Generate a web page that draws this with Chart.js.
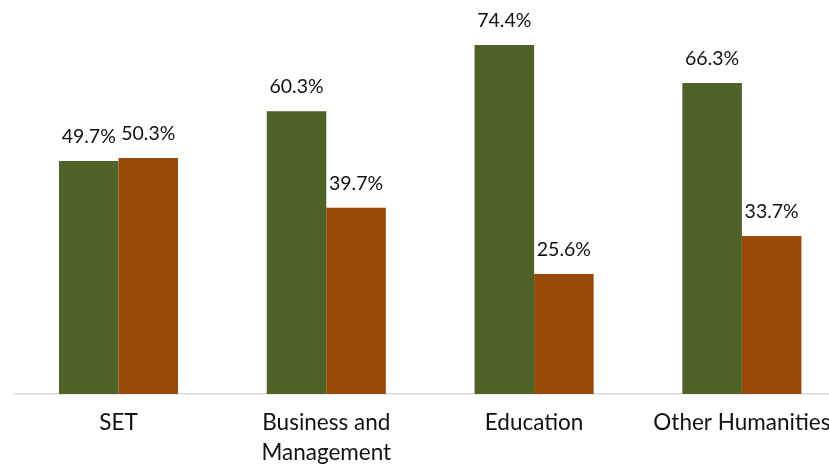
<!DOCTYPE html>
<html>
<head>
<meta charset="utf-8">
<script src="https://cdn.jsdelivr.net/npm/chart.js@4.4.1/dist/chart.umd.min.js"></script>
<style>
  html, body { margin: 0; padding: 0; background: #ffffff; overflow: hidden; }
  #wrap { position: relative; width: 860px; height: 465px; }
</style>
</head>
<body>
<div id="wrap"><canvas id="chart"></canvas></div>
<script>
// Categories along the x axis
const categories = ['SET', ['Business and', 'Management'], 'Education', 'Other Humanities'];
// Percentage shares per category for the two groups
const firstGroup = [49.7, 60.3, 74.4, 66.3];
const secondGroup = [50.3, 39.7, 25.6, 33.7];

const GREEN = '#4F6228';
const BROWN = '#984807';
const FONT = 'Lato, "Open Sans", "DejaVu Sans", sans-serif';

// Writes each bar's percentage above its top edge
const valueLabels = {
  id: 'valueLabels',
  afterDatasetsDraw(chart) {
    const ctx = chart.ctx;
    ctx.save();
    ctx.font = '19.5px ' + FONT;
    ctx.fillStyle = '#111111';
    ctx.textAlign = 'center';
    ctx.textBaseline = 'middle';
    chart.data.datasets.forEach((ds, i) => {
      chart.getDatasetMeta(i).data.forEach((bar, j) => {
        ctx.fillText(ds.data[j].toFixed(1) + '%', bar.x, bar.y - 24);
      });
    });
    ctx.restore();
  }
};

new Chart(document.getElementById('chart'), {
  type: 'bar',
  data: {
    labels: categories,
    datasets: [
      { label: 'Group 1', data: firstGroup, backgroundColor: GREEN, borderWidth: 0 },
      { label: 'Group 2', data: secondGroup, backgroundColor: BROWN, borderWidth: 0 }
    ]
  },
  options: {
    responsive: true,
    maintainAspectRatio: false,
    animation: false,
    devicePixelRatio: 1,
    layout: { padding: { left: 14.6, right: 14.2, top: 18.8, bottom: 0 } },
    datasets: { bar: { categoryPercentage: 0.573, barPercentage: 1.0 } },
    plugins: { legend: { display: false }, tooltip: { enabled: false } },
    scales: {
      x: {
        grid: { display: false, drawTicks: false },
        border: { display: true, color: '#d9d9d9', width: 1.5 },
        ticks: {
          color: '#111111',
          font: { family: FONT, size: 22.5, lineHeight: 1.34 },
          padding: 14,
          maxRotation: 0,
          autoSkip: false
        },
        afterFit(scale) { scale.height = 71; }
      },
      y: {
        display: false,
        min: 0,
        max: 80
      }
    }
  },
  plugins: [valueLabels]
});
</script>
</body>
</html>
